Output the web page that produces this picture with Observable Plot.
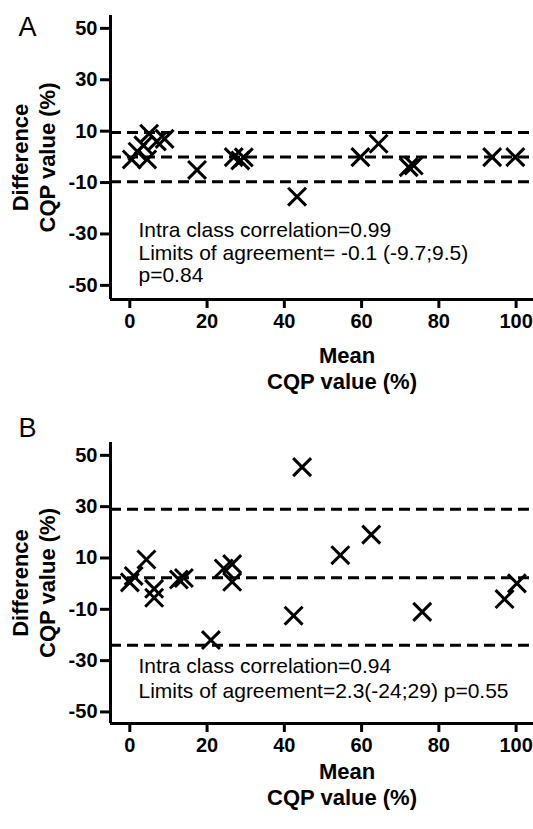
<!DOCTYPE html>
<html><head><meta charset="utf-8">
<script src="https://cdn.jsdelivr.net/npm/d3@7"></script>
<script src="https://cdn.jsdelivr.net/npm/@observablehq/plot@0.6"></script>
<style>
body{margin:0;background:#fff;}
#chart{width:533px;}
#chart svg{display:block;}
g[aria-label="x-axis tick label"] text, g[aria-label="y-axis tick label"] text {font-weight:bold;}
</style></head><body><div id="chart"></div>
<script>
const xTicks = [0, 20, 40, 60, 80, 100];
const yTicks = [-50, -30, -10, 10, 30, 50];

// Panel A
const meanA = [0.5, 2, 3.5, 4.5, 5, 7, 9, 17.4, 26.9, 28.6, 29.5, 43.3, 59.7, 64.4, 72.2, 73.5, 93.8, 99.8];
const diffA = [-1, 2, 4.5, -1, 9, 6, 7, -5.1, -0.1, -1.4, -0.2, -15.5, -0.1, 5.1, -4, -3.4, -0.1, -0.1];
const limitsA = [-9.7, -0.1, 9.5];
const statsA = ["Intra class correlation=0.99", "Limits of agreement= -0.1 (-9.7;9.5)", "p=0.84"];

// Panel B
const meanB = [0, 1, 4.3, 6.3, 6.3, 12.7, 14, 21, 24.3, 26.5, 26.5, 42.4, 44.6, 54.5, 62.5, 75.7, 97, 100.2];
const diffB = [0.5, 3, 9.4, -2, -5.5, 1.6, 2.2, -22, 5.9, 7.6, 0.7, -12.5, 45.4, 11.1, 19.1, -11, -6, 0.1];
const limitsB = [-24, 2.3, 29];
const statsB = ["Intra class correlation=0.94", "Limits of agreement=2.3(-24;29) p=0.55"];

const xTitle = ["Mean", "CQP value (%)"];
const yTitle = ["Difference", "CQP value (%)"];

const FONT = "'Liberation Sans', Arial, Helvetica, sans-serif";

function panel(o) {
  const pts = o.mean.map((m, i) => ({mean: m, diff: o.diff[i]}));
  const xDomain = [-5, 104.5];
  return Plot.plot({
    width: 533, height: o.height,
    marginLeft: 110, marginRight: 0, marginTop: o.marginTop, marginBottom: o.marginBottom,
    style: {fontFamily: FONT, fontSize: "20px", color: "#000", background: "#fff", overflow: "visible"},
    x: {domain: xDomain, axis: null},
    y: {domain: o.yDomain, axis: null},
    marks: [
      Plot.ruleY(o.limits, {strokeDasharray: "11,6", strokeWidth: 3, stroke: "#000"}),
      Plot.ruleX([xDomain[0]], {strokeWidth: 3, stroke: "#000"}),
      Plot.ruleY([o.yDomain[0]], {strokeWidth: 3, stroke: "#000"}),
      Plot.axisX({ticks: xTicks, tickSize: 9, tickPadding: 5, strokeWidth: 3, fontWeight: "bold", fontSize: 20, tickFormat: d => String(d), label: null}),
      Plot.axisY({ticks: yTicks, tickSize: 10, tickPadding: 3, strokeWidth: 3, fontWeight: "bold", fontSize: 20, tickFormat: d => String(d), label: null}),
      Plot.dot(pts, {x: "mean", y: "diff", symbol: "times", r: 8.2, stroke: "#000", fill: "none", strokeWidth: 3}),
      Plot.text([o.label], {text: d => d, frameAnchor: "top-left", dx: -83, dy: o.labelDy, fontSize: 27, textAnchor: "middle", lineAnchor: "middle"}),
      Plot.text([yTitle[0]], {text: d => d, frameAnchor: "left", rotate: -90, dx: -90, fontSize: 22, fontWeight: "bold", textAnchor: "middle", lineAnchor: "middle"}),
      Plot.text([yTitle[1]], {text: d => d, frameAnchor: "left", rotate: -90, dx: -63, fontSize: 22, fontWeight: "bold", textAnchor: "middle", lineAnchor: "middle"}),
      Plot.text([xTitle[0]], {text: d => d, frameAnchor: "bottom", dx: 25, dy: o.meanDy, fontSize: 22, fontWeight: "bold", textAnchor: "middle", lineAnchor: "middle"}),
      Plot.text([xTitle[1]], {text: d => d, frameAnchor: "bottom", dx: 20, dy: o.meanDy + 26, fontSize: 22, fontWeight: "bold", textAnchor: "middle", lineAnchor: "middle"}),
      Plot.text([o.stats.join("\n")], {text: d => d, frameAnchor: "bottom-left", dx: 28, dy: o.statsDy, lineAnchor: "top", lineHeight: o.statsLH, fontSize: 21, textAnchor: "start"})
    ]
  });
}

const chart = document.getElementById("chart");
chart.append(panel({label: "A", mean: meanA, diff: diffA, limits: limitsA, stats: statsA,
  height: 415, marginTop: 15, marginBottom: 116, yDomain: [-55.5, 55], labelDy: 12, meanDy: 56, statsDy: -78, statsLH: 1.07}));
chart.append(panel({label: "B", mean: meanB, diff: diffB, limits: limitsB, stats: statsB,
  height: 414, marginTop: 27, marginBottom: 106, yDomain: [-54.5, 55], labelDy: -14, meanDy: 48, statsDy: -68, statsLH: 1.19}));
</script></body></html>
